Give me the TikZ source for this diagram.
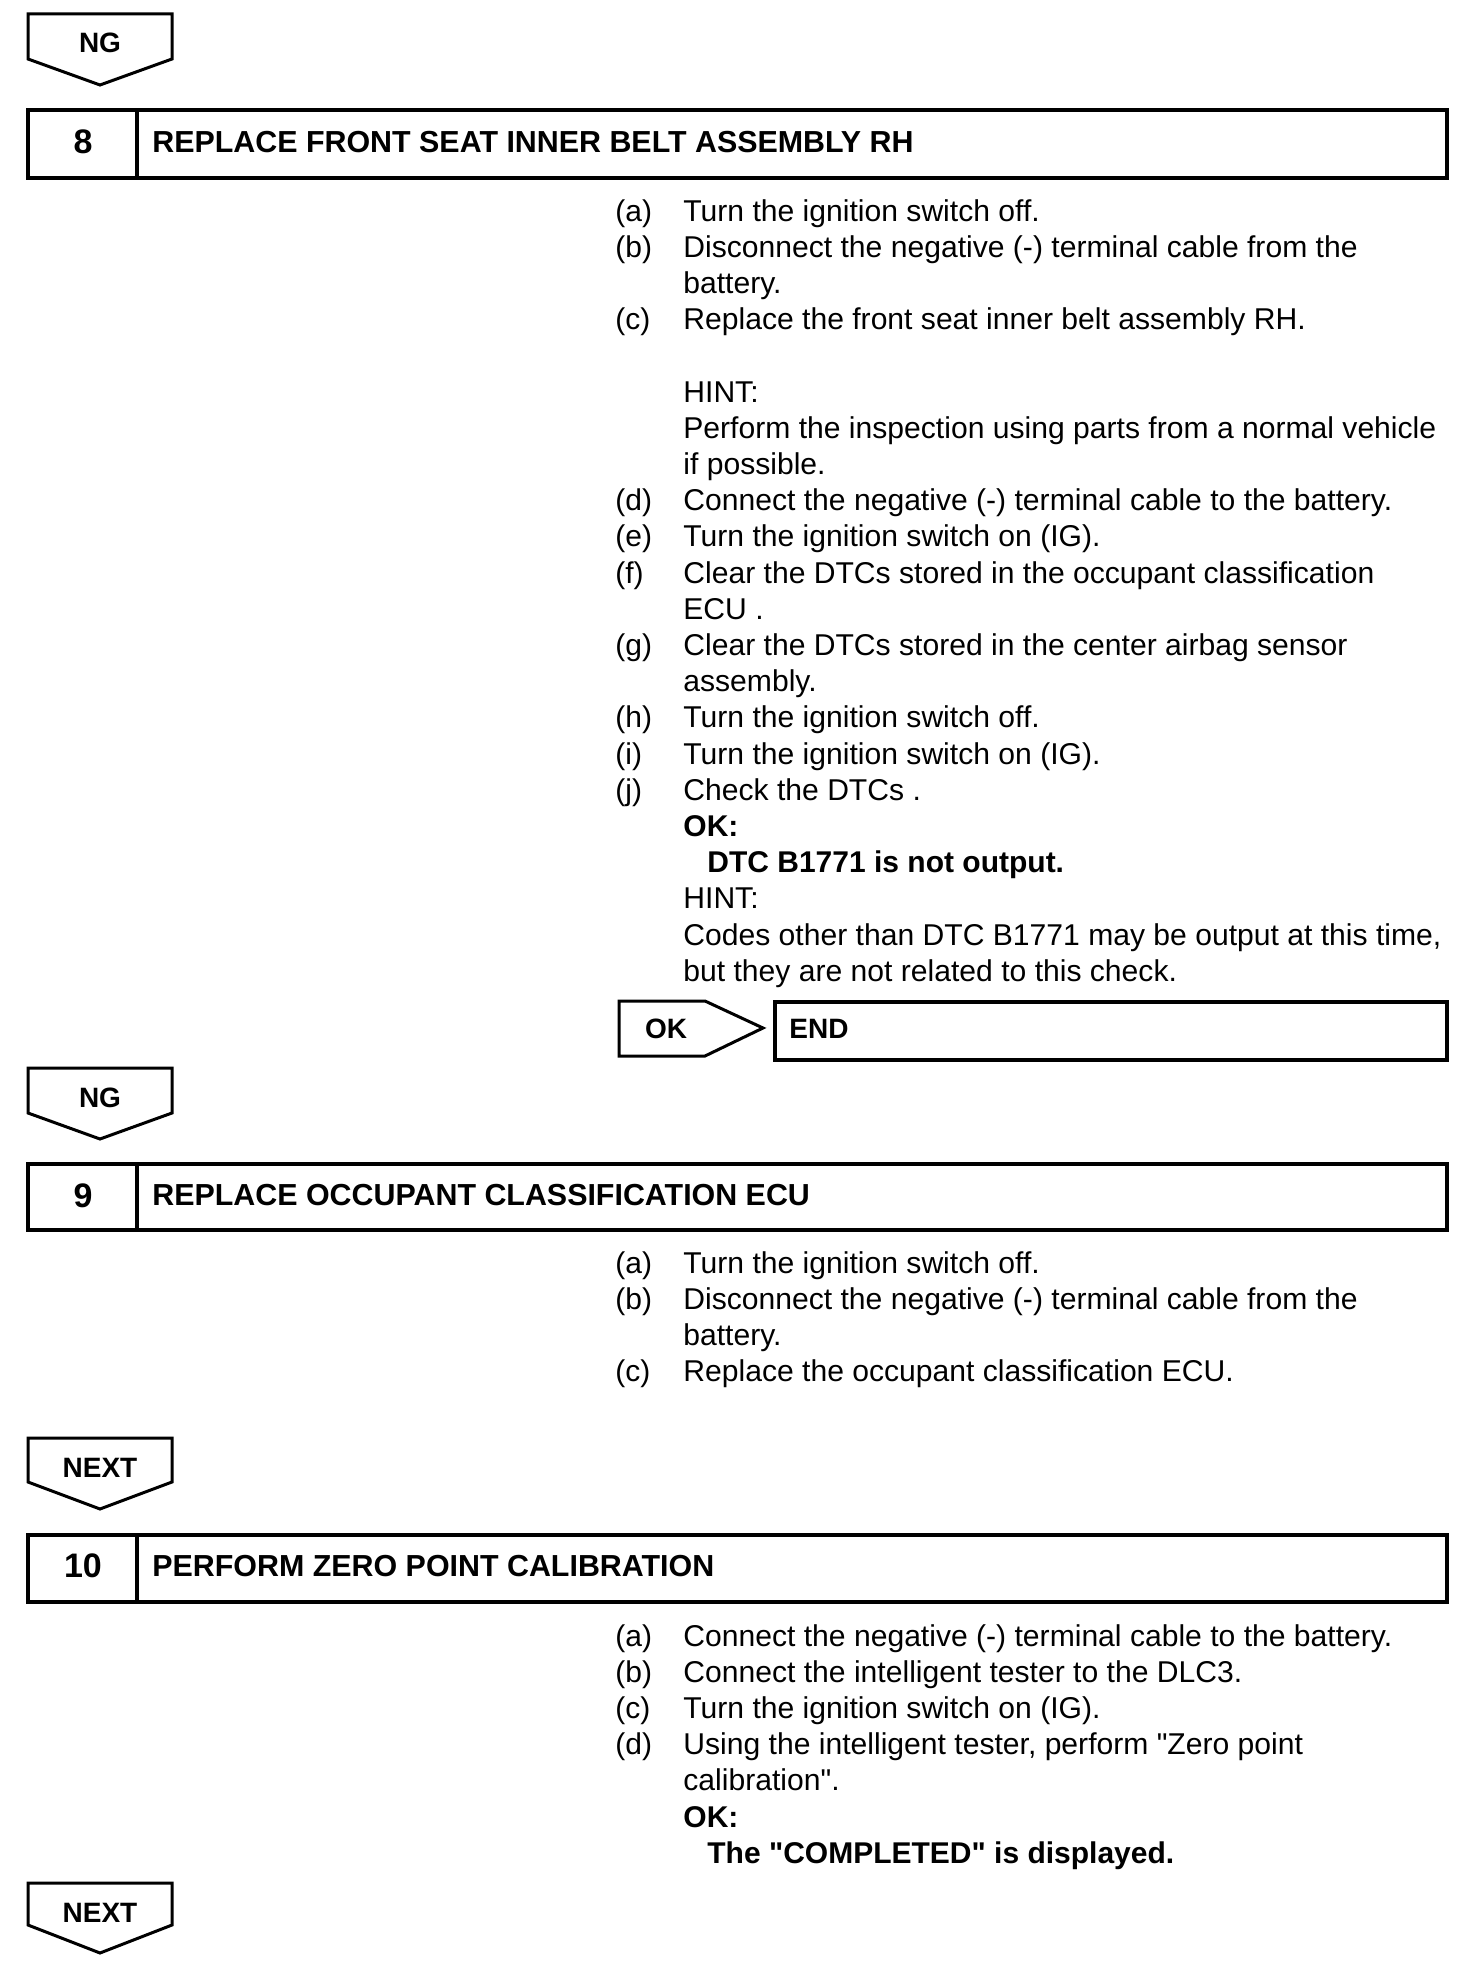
\documentclass[tikz,border=0pt]{standalone}
\usepackage{fontspec}
\setmainfont{Liberation Sans}[Ligatures=TeXOff]
\begin{document}
\begin{tikzpicture}[x=0.5pt,y=-0.5pt,
  boxline/.style={line width=2pt,line join=miter},
  arrline/.style={line width=1.5pt,line join=miter},
  arrlabel/.style={inner sep=0pt,anchor=base,font=\fontsize{14pt}{16pt}\selectfont\bfseries},
  numtxt/.style={inner sep=0pt,anchor=base,font=\fontsize{17pt}{19pt}\selectfont\bfseries},
  headtxt/.style={inner sep=0pt,anchor=base west,font=\fontsize{15.2pt}{18pt}\selectfont\bfseries},
  lbl/.style={inner sep=0pt,anchor=base west,font=\fontsize{15pt}{18pt}\selectfont},
  bodytxt/.style={inner sep=0pt,anchor=base west,font=\fontsize{15.05pt}{18pt}\selectfont},
  boldtxt/.style={inner sep=0pt,anchor=base west,font=\fontsize{15pt}{18pt}\selectfont\bfseries}]
\useasboundingbox[fill=white] (0,0) rectangle (1472,1980);

% ---------- NG arrow 1
\draw[arrline] (28,14) -- (172,14) -- (172,59) -- (100,85) -- (28,59) -- cycle;
\node[arrlabel] (ng1) at (100,53) {NG};

% ---------- Step 8 box
\draw[boxline] (28,110) rectangle (1447,178);
\draw[boxline] (137,110) -- (137,178);
\node[numtxt] (n8) at (83,154) {8};
\node[headtxt] (h8) at (152,152) {REPLACE FRONT SEAT INNER BELT ASSEMBLY RH};

% ---------- Step 8 text
\node[lbl] (l8a) at (615,221) {(a)};
\node[bodytxt] (t8a) at (683,221) {Turn the ignition switch off.};
\node[lbl] (l8b) at (615,257.2) {(b)};
\node[bodytxt] (t8b) at (683,257.2) {Disconnect the negative (-) terminal cable from the};
\node[bodytxt] (t8b2) at (683,293.4) {battery.};
\node[lbl] (l8c) at (615,329.6) {(c)};
\node[bodytxt] (t8c) at (683,329.6) {Replace the front seat inner belt assembly RH.};
\node[bodytxt] (t8h1) at (683,402) {HINT:};
\node[bodytxt] (t8h2) at (683,438.2) {Perform the inspection using parts from a normal vehicle};
\node[bodytxt] (t8h3) at (683,474.4) {if possible.};
\node[lbl] (l8d) at (615,510.6) {(d)};
\node[bodytxt] (t8d) at (683,510.6) {Connect the negative (-) terminal cable to the battery.};
\node[lbl] (l8e) at (615,546.8) {(e)};
\node[bodytxt] (t8e) at (683,546.8) {Turn the ignition switch on (IG).};
\node[lbl] (l8f) at (615,583) {(f)};
\node[bodytxt] (t8f) at (683,583) {Clear the DTCs stored in the occupant classification};
\node[bodytxt] (t8f2) at (683,619.2) {ECU .};
\node[lbl] (l8g) at (615,655.4) {(g)};
\node[bodytxt] (t8g) at (683,655.4) {Clear the DTCs stored in the center airbag sensor};
\node[bodytxt] (t8g2) at (683,691.6) {assembly.};
\node[lbl] (l8h) at (615,727.8) {(h)};
\node[bodytxt] (t8h) at (683,727.8) {Turn the ignition switch off.};
\node[lbl] (l8i) at (615,764) {(i)};
\node[bodytxt] (t8i) at (683,764) {Turn the ignition switch on (IG).};
\node[lbl] (l8j) at (615,800.2) {(j)};
\node[bodytxt] (t8j) at (683,800.2) {Check the DTCs .};
\node[boldtxt] (t8ok) at (683,836.4) {OK:};
\node[boldtxt] (t8okv) at (707,872.6) {DTC B1771 is not output.};
\node[bodytxt] (t8k1) at (683,908.8) {HINT:};
\node[bodytxt] (t8k2) at (683,945) {Codes other than DTC B1771 may be output at this time,};
\node[bodytxt] (t8k3) at (683,981.2) {but they are not related to this check.};

% ---------- OK -> END
\draw[arrline] (619,1001) -- (705,1001) -- (763,1028) -- (705,1056) -- (619,1056) -- cycle;
\node[arrlabel] (okl) at (666,1038) {OK};
\draw[boxline] (775,1002) rectangle (1447,1060);
\node[headtxt,font=\fontsize{14pt}{16pt}\selectfont\bfseries] (endl) at (789,1038) {END};

% ---------- NG arrow 2
\draw[arrline] (28,1068) -- (172,1068) -- (172,1113) -- (100,1139) -- (28,1113) -- cycle;
\node[arrlabel] (ng2) at (100,1107) {NG};

% ---------- Step 9 box
\draw[boxline] (28,1164) rectangle (1447,1230);
\draw[boxline] (137,1164) -- (137,1230);
\node[numtxt] (n9) at (83,1207) {9};
\node[headtxt] (h9) at (152,1205) {REPLACE OCCUPANT CLASSIFICATION ECU};

\node[lbl] (l9a) at (615,1273) {(a)};
\node[bodytxt] (t9a) at (683,1273) {Turn the ignition switch off.};
\node[lbl] (l9b) at (615,1309.2) {(b)};
\node[bodytxt] (t9b) at (683,1309.2) {Disconnect the negative (-) terminal cable from the};
\node[bodytxt] (t9b2) at (683,1345.4) {battery.};
\node[lbl] (l9c) at (615,1381.6) {(c)};
\node[bodytxt] (t9c) at (683,1381.6) {Replace the occupant classification ECU.};

% ---------- NEXT arrow 1
\draw[arrline] (28,1438) -- (172,1438) -- (172,1482) -- (100,1509) -- (28,1482) -- cycle;
\node[arrlabel] (nx1) at (100,1477) {NEXT};

% ---------- Step 10 box
\draw[boxline] (28,1535) rectangle (1447,1602);
\draw[boxline] (137,1535) -- (137,1602);
\node[numtxt] (n10) at (83,1577) {10};
\node[headtxt] (h10) at (152,1576) {PERFORM ZERO POINT CALIBRATION};

\node[lbl] (l10a) at (615,1646) {(a)};
\node[bodytxt] (t10a) at (683,1646) {Connect the negative (-) terminal cable to the battery.};
\node[lbl] (l10b) at (615,1682.2) {(b)};
\node[bodytxt] (t10b) at (683,1682.2) {Connect the intelligent tester to the DLC3.};
\node[lbl] (l10c) at (615,1718.4) {(c)};
\node[bodytxt] (t10c) at (683,1718.4) {Turn the ignition switch on (IG).};
\node[lbl] (l10d) at (615,1754.6) {(d)};
\node[bodytxt] (t10d) at (683,1754.6) {Using the intelligent tester, perform "Zero point};
\node[bodytxt] (t10d2) at (683,1790.8) {calibration".};
\node[boldtxt] (t10ok) at (683,1827) {OK:};
\node[boldtxt] (t10okv) at (707,1863.2) {The "COMPLETED" is displayed.};

% ---------- NEXT arrow 2
\draw[arrline] (28,1883) -- (172,1883) -- (172,1925) -- (100,1953) -- (28,1925) -- cycle;
\node[arrlabel] (nx2) at (100,1922) {NEXT};
\end{tikzpicture}
\end{document}
